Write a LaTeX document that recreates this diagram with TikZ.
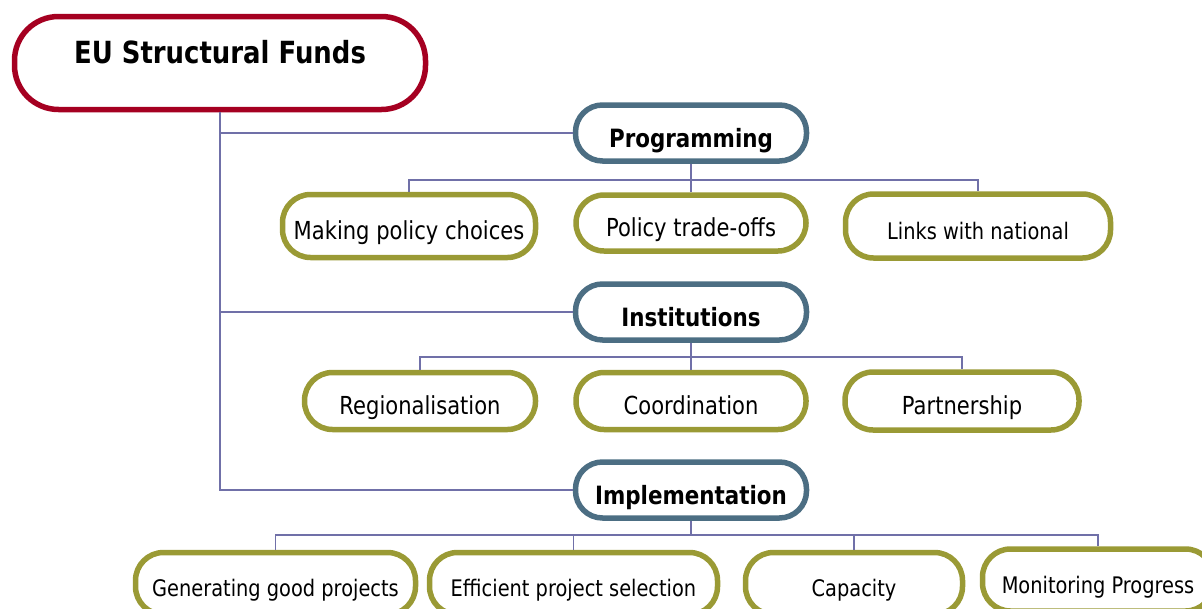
\documentclass[tikz,border=0pt]{standalone}
\usepackage{fontspec}
\setmainfont{DejaVu Sans}[FakeStretch=0.85]
\usepackage{tikz}
\usetikzlibrary{positioning}
\definecolor{fundred}{RGB}{165,0,33}
\definecolor{levelblue}{RGB}{76,110,131}
\definecolor{leafolive}{RGB}{154,154,53}
\definecolor{linkblue}{RGB}{112,112,168}

\begin{document}
\begin{tikzpicture}[x=1pt,y=-1pt,on grid,auto]
    \tikzset{root/.style={draw=fundred,line width=5.5pt,rectangle,rounded corners=44pt,minimum width=411pt,minimum height=93pt,font=\fontsize{30.5}{35}\selectfont\bfseries,text height=22pt,text depth=22pt}}
    \tikzset{level/.style={draw=levelblue,line width=5.5pt,rectangle,rounded corners=27pt,minimum width=231pt,minimum height=56pt,font=\fontsize{25.2}{29}\selectfont\bfseries,text height=28pt,text depth=0pt}}
    \tikzset{leaf/.style={draw=leafolive,line width=5.5pt,rectangle,rounded corners=28pt,font=\fontsize{24.8}{28}\selectfont,text height=26pt,text depth=0pt}}
    \tikzset{leafsmall/.style={leaf,font=\fontsize{22.8}{26}\selectfont}}
    \tikzset{link/.style={draw=linkblue,line width=1.8pt}}
    \useasboundingbox (0,0) rectangle (1202,608);
    \clip (0,0) rectangle (1202,608);
    \node[root] (funds) at (220,63) {EU Structural Funds};
    \node[level] (prog) at (691,133) {Programming};
    \node[level] (inst) at (691,312) {Institutions};
    \node[level] (impl) at (691,490) {Implementation};
    % programming
    \node[leaf,minimum width=253pt,minimum height=63pt] (choices) [below left=93pt and 282pt of prog] {Making policy choices};
    \node[leaf,minimum width=230pt,minimum height=56pt] (tradeoffs) [below=90pt of prog] {Policy trade-offs};
    \node[leafsmall,minimum width=265pt,minimum height=64pt] (national) [below right=93pt and 287pt of prog] {Links with national};
    % institutions
    \node[leaf,minimum width=231pt,minimum height=57pt] (region) [below left=89pt and 271pt of inst] {Regionalisation};
    \node[leaf,minimum width=230pt,minimum height=57pt] (coord) [below=89pt of inst] {Coordination};
    \node[leaf,minimum width=234pt,minimum height=58pt] (partner) [below right=89pt and 271pt of inst] {Partnership};
    % implementation
    \node[leafsmall,minimum width=280pt,minimum height=62pt] (projects) [below left=93.5pt and 415.5pt of impl] {Generating good projects};
    \node[leafsmall,minimum width=288pt,minimum height=62pt] (selection) [below left=93.5pt and 117.5pt of impl] {Efficient project selection};
    \node[leafsmall,minimum width=217pt,minimum height=62pt] (capacity) [below right=93.5pt and 163pt of impl] {Capacity};
    \node[leafsmall,minimum width=231pt,minimum height=62pt] (monitor) [below right=90pt and 407pt of impl] {Monitoring Progress};
    \draw[link] (funds.south) |- (prog.west);
    \draw[link] (funds.south) |- (inst.west);
    \draw[link] (funds.south) |- (impl.west);
    \foreach \kid in {choices,tradeoffs,national}
      \draw[link] (prog.south) -- ++(0,16) -| (\kid.north);
    \foreach \kid in {region,coord,partner}
      \draw[link] (inst.south) -- ++(0,14) -| (\kid.north);
    \foreach \kid in {projects,selection,capacity,monitor}
      \draw[link] (impl.south) -- ++(0,14) -| (\kid.north);
\end{tikzpicture}
\end{document}
